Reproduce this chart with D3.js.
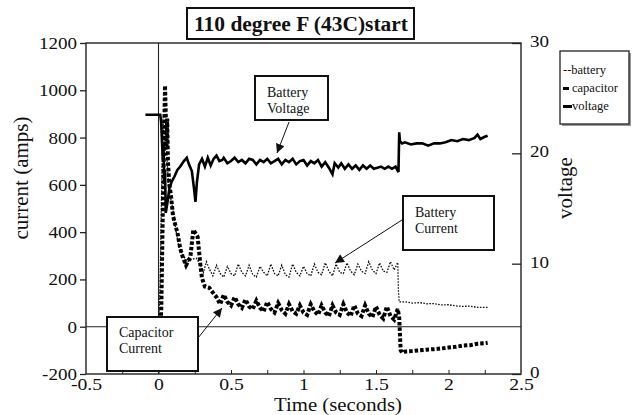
<!DOCTYPE html>
<html>
<head>
<meta charset="utf-8">
<script src="https://cdn.jsdelivr.net/npm/d3@7"></script>
<style>
  body { margin: 0; background: #fff; }
  svg text { font-family: "Liberation Serif", "Times New Roman", serif; fill: #111; }
  .axis path, .axis line { stroke: #222; }
</style>
</head>
<body>
<div id="chart"></div>
<script>
// time in seconds, voltage in volts (right axis)
const voltage = [
  [-0.09,23.5],[0.012,23.5],[0.018,22.9],[0.024,21.1],[0.03,19.4],[0.034,20.8],[0.04,17.2],[0.045,18.5],
  [0.05,14.6],[0.06,15.4],[0.075,16.8],[0.09,17.4],[0.11,17.9],[0.13,18.5],[0.15,18.8],[0.175,19.3],
  [0.195,19.6],[0.21,19.0],[0.23,18.4],[0.245,16.8],[0.255,15.6],[0.265,17.4],[0.28,19.0],[0.3,19.5],
  [0.32,18.8],[0.34,19.6],[0.36,18.9],[0.38,19.5],[0.4,19.8],[0.42,19.3],[0.44,19.4],[0.45,19.6],
  [0.475,19.1],[0.5,19.3],[0.525,19.6],[0.55,19.2],[0.575,19.4],[0.6,19.1],[0.625,19.5],[0.65,19.4],
  [0.675,19.0],[0.7,19.4],[0.725,19.2],[0.75,19.5],[0.775,19.1],[0.8,19.3],[0.825,19.5],[0.85,19.0],
  [0.875,19.4],[0.9,19.2],[0.925,19.5],[0.95,19.0],[0.975,19.3],[1.0,19.4],[1.025,18.9],[1.05,19.3],
  [1.075,19.1],[1.1,19.4],[1.125,18.8],[1.15,19.2],[1.175,18.7],[1.2,18.1],[1.215,19.1],[1.24,18.7],
  [1.26,19.1],[1.285,18.6],[1.31,19.0],[1.335,18.6],[1.36,18.9],[1.385,18.5],[1.41,18.9],[1.435,18.6],
  [1.46,18.9],[1.485,18.6],[1.51,18.7],[1.535,18.8],[1.56,18.6],[1.585,18.8],[1.61,18.6],[1.635,18.8],
  [1.655,18.3],[1.66,21.9],[1.665,21.1],[1.68,20.9],[1.7,21.0],[1.74,20.8],[1.78,20.9],[1.82,20.9],
  [1.86,20.7],[1.9,20.9],[1.94,20.9],[1.98,21.0],[2.02,21.2],[2.06,21.1],[2.1,21.3],[2.14,21.2],
  [2.18,21.4],[2.2,21.7],[2.22,21.3],[2.25,21.5],[2.27,21.6]
];

// battery current, amps (left axis)
const battery = [
  [0,0],[0.01,150],[0.02,520],[0.03,880],[0.04,760],[0.05,860],[0.06,700],[0.07,580],[0.085,540],
  [0.1,495],[0.12,410],[0.14,340],[0.17,300],[0.2,275],[0.23,285],[0.26,290],[0.29,260],[0.31,230],
  [0.33,275],[0.35,245],[0.375,215],[0.4,260],[0.425,225],[0.45,210],[0.475,255],[0.5,225],
  [0.525,215],[0.55,265],[0.575,230],[0.6,215],[0.625,260],[0.65,220],[0.675,210],[0.7,255],
  [0.725,230],[0.75,215],[0.775,265],[0.8,225],[0.825,215],[0.85,260],[0.875,220],[0.9,210],
  [0.925,265],[0.95,230],[0.975,215],[1.0,255],[1.025,225],[1.05,215],[1.075,265],[1.1,230],
  [1.125,220],[1.15,270],[1.175,235],[1.2,215],[1.225,265],[1.25,230],[1.275,225],[1.3,270],
  [1.325,235],[1.35,220],[1.375,265],[1.4,235],[1.425,225],[1.45,275],[1.475,240],[1.5,225],
  [1.525,270],[1.55,235],[1.575,230],[1.6,275],[1.625,240],[1.65,272],[1.655,150],[1.66,105],
  [1.7,105],[1.75,100],[1.8,102],[1.85,97],[1.9,98],[1.95,92],[2.0,93],[2.05,88],[2.1,86],
  [2.15,87],[2.2,82],[2.27,82]
];

// capacitor current, amps (left axis)
const capacitor = [
  [0.015,0],[0.02,100],[0.03,500],[0.04,850],[0.045,1020],[0.05,900],[0.055,750],[0.06,880],
  [0.065,700],[0.075,600],[0.085,560],[0.1,470],[0.12,420],[0.13,400],[0.15,330],[0.17,290],
  [0.19,260],[0.22,295],[0.24,410],[0.27,380],[0.29,255],[0.3,205],[0.32,170],[0.35,165],
  [0.38,140],[0.4,125],[0.425,95],[0.45,135],[0.475,105],[0.5,90],[0.525,125],[0.55,95],
  [0.575,80],[0.6,115],[0.625,85],[0.65,75],[0.675,110],[0.7,80],[0.725,65],[0.75,105],
  [0.775,75],[0.8,60],[0.825,100],[0.85,70],[0.875,55],[0.9,95],[0.925,65],[0.95,55],
  [0.975,90],[1.0,60],[1.025,50],[1.05,95],[1.075,65],[1.1,50],[1.125,90],[1.15,60],
  [1.175,45],[1.2,90],[1.225,60],[1.25,50],[1.275,95],[1.3,60],[1.325,45],[1.35,90],
  [1.375,55],[1.4,45],[1.425,90],[1.45,55],[1.475,40],[1.5,85],[1.525,50],[1.55,35],
  [1.575,85],[1.6,45],[1.625,30],[1.65,75],[1.66,40],[1.665,-30],[1.67,-100],[1.68,-110],
  [1.7,-105],[1.75,-103],[1.8,-100],[1.85,-97],[1.9,-95],[1.95,-92],[2.0,-88],[2.05,-85],
  [2.1,-80],[2.15,-78],[2.2,-72],[2.25,-70],[2.27,-68]
];

const xTicks = [-0.5, 0, 0.5, 1, 1.5, 2, 2.5];
const xMinorTicks = d3.range(-0.25, 2.5, 0.25);
const leftTicks = [-200, 0, 200, 400, 600, 800, 1000, 1200];
const rightTicks = [0, 10, 20, 30];
const legendLabels = ["--battery", "capacitor", "voltage"];

const width = 637, height = 415;
const m = { left: 86, right: 521, top: 43, bottom: 374 };

const svg = d3.select("#chart").append("svg")
  .attr("width", width).attr("height", height);

const x = d3.scaleLinear().domain([-0.5, 2.5]).range([m.left, m.right]);
const yL = d3.scaleLinear().domain([-200, 1200]).range([m.bottom, m.top]);
const yR = d3.scaleLinear().domain([0, 30]).range([m.bottom, m.top]);

const plain = d => String(d);   // hyphen minus, no thousands comma

// stretch text a little sideways, the source fonts are wider than Times
function stretch(sel, k) {
  sel.each(function() {
    const w = this.getComputedTextLength();
    d3.select(this).attr("textLength", w * k).attr("lengthAdjust", "spacingAndGlyphs");
  });
}

function tidy(g) {
  g.attr("font-family", null).attr("font-size", null);
  g.select(".domain").remove();
  g.selectAll("text").attr("font-size", 17);
}

svg.append("defs").append("marker")
  .attr("id", "head")
  .attr("viewBox", "0 0 10 10")
  .attr("refX", 10).attr("refY", 5)
  .attr("markerWidth", 11).attr("markerHeight", 9)
  .attr("markerUnits", "userSpaceOnUse")
  .attr("orient", "auto")
  .append("path").attr("d", "M0,0L10,5L0,10Z").attr("fill", "#111");

// frame
svg.append("rect")
  .attr("x", m.left).attr("y", m.top)
  .attr("width", m.right - m.left).attr("height", m.bottom - m.top)
  .attr("fill", "none").attr("stroke", "#222").attr("stroke-width", 1.4);

// zero lines
svg.append("line")
  .attr("x1", m.left).attr("x2", m.right).attr("y1", yL(0)).attr("y2", yL(0))
  .attr("stroke", "#222").attr("stroke-width", 1.1);
svg.append("line")
  .attr("x1", x(0)).attr("x2", x(0)).attr("y1", m.top).attr("y2", m.bottom)
  .attr("stroke", "#222").attr("stroke-width", 1.1);

// bottom axis: inner minor ticks + labels
svg.append("g").attr("class", "axis")
  .attr("transform", `translate(0,${m.bottom})`)
  .call(d3.axisBottom(x).tickValues(xMinorTicks).tickSize(-4).tickSizeOuter(0).tickFormat(""))
  .call(tidy);
const xLab = svg.append("g").attr("class", "axis")
  .attr("transform", `translate(0,${m.bottom})`)
  .call(d3.axisBottom(x).tickValues(xTicks).tickSize(0).tickPadding(4).tickFormat(plain))
  .call(tidy);
stretch(xLab.selectAll("text"), 1.16);

// left axis
const yLab = svg.append("g").attr("class", "axis")
  .attr("transform", `translate(${m.left},0)`)
  .call(d3.axisLeft(yL).tickValues(leftTicks).tickSize(6).tickPadding(3).tickSizeOuter(0).tickFormat(plain))
  .call(tidy);
yLab.selectAll("line").attr("stroke-width", 1.3);
stretch(yLab.selectAll("text"), 1.12);

// right axis
const yRLab = svg.append("g").attr("class", "axis")
  .attr("transform", `translate(${m.right},0)`)
  .call(d3.axisRight(yR).tickValues(rightTicks).tickSize(-9).tickPadding(9).tickSizeOuter(0).tickFormat(plain))
  .call(tidy);
yRLab.selectAll("text").attr("dy", "0.2em");
yRLab.selectAll("line").attr("stroke-width", 1.3);
stretch(yRLab.selectAll("text"), 1.12);

// series
const lineL = d3.line().x(d => x(d[0])).y(d => yL(d[1]));
const lineR = d3.line().x(d => x(d[0])).y(d => yR(d[1]));

svg.append("path").datum(battery)
  .attr("d", lineL).attr("fill", "none")
  .attr("stroke", "#111").attr("stroke-width", 1.3).attr("stroke-dasharray", "1.6 1.4");

svg.append("path").datum(capacitor)
  .attr("d", lineL).attr("fill", "none")
  .attr("stroke", "#000").attr("stroke-width", 4).attr("stroke-dasharray", "3.5 2");

svg.append("path").datum(voltage)
  .attr("d", lineR).attr("fill", "none")
  .attr("stroke", "#000").attr("stroke-width", 2.6).attr("stroke-linejoin", "miter");

// title
svg.append("rect")
  .attr("x", 187).attr("y", 8).attr("width", 227).attr("height", 31)
  .attr("fill", "#fff").attr("stroke", "#111").attr("stroke-width", 2);
svg.append("text")
  .attr("x", 301).attr("y", 31).attr("text-anchor", "middle")
  .attr("font-size", 20).attr("font-weight", "bold")
  .attr("textLength", 214).attr("lengthAdjust", "spacingAndGlyphs")
  .text("110 degree F (43C)start");

// axis titles
svg.append("text")
  .attr("x", 338).attr("y", 411).attr("text-anchor", "middle")
  .attr("font-size", 18)
  .attr("textLength", 128).attr("lengthAdjust", "spacingAndGlyphs")
  .text("Time (seconds)");
svg.append("text")
  .attr("transform", "translate(28,178) rotate(-90)")
  .attr("text-anchor", "middle").attr("font-size", 21)
  .text("current (amps)");
svg.append("text")
  .attr("transform", "translate(572,188) rotate(-90)")
  .attr("text-anchor", "middle").attr("font-size", 21)
  .text("voltage");

// legend
const lg = svg.append("g");
lg.append("rect").attr("x", 562).attr("y", 53).attr("width", 69).attr("height", 73).attr("fill", "#9a9a9a");
lg.append("rect").attr("x", 560).attr("y", 51).attr("width", 69).attr("height", 73)
  .attr("fill", "#fff").attr("stroke", "#222").attr("stroke-width", 1.3);
lg.append("text").attr("x", 563).attr("y", 74).attr("font-size", 12.5).text(legendLabels[0]);
lg.append("rect").attr("x", 563).attr("y", 87).attr("width", 6).attr("height", 3).attr("fill", "#000");
lg.append("text").attr("x", 572).attr("y", 92).attr("font-size", 12.5).text(legendLabels[1]);
lg.append("rect").attr("x", 563).attr("y", 105).attr("width", 9).attr("height", 3).attr("fill", "#000");
lg.append("text").attr("x", 572).attr("y", 110).attr("font-size", 12.5).text(legendLabels[2]);

// callouts
const notes = [
  { box: [255, 76, 73, 44], lines: ["Battery", "Voltage"], tx: 267, ty: 97, from: [289, 122], to: [277, 153] },
  { box: [403, 196, 91, 54], lines: ["Battery", "Current"], tx: 415, ty: 217, from: [402, 220], to: [335, 263] },
  { box: [107, 317, 91, 54], lines: ["Capacitor", "Current"], tx: 119, ty: 337, from: [198, 338], to: [222, 308] }
];
notes.forEach(n => {
  svg.append("line")
    .attr("x1", n.from[0]).attr("y1", n.from[1]).attr("x2", n.to[0]).attr("y2", n.to[1])
    .attr("stroke", "#111").attr("stroke-width", 1).attr("marker-end", "url(#head)");
  svg.append("rect")
    .attr("x", n.box[0]).attr("y", n.box[1]).attr("width", n.box[2]).attr("height", n.box[3])
    .attr("fill", "#fff").attr("stroke", "#111").attr("stroke-width", 2);
  n.lines.forEach((t, i) => {
    svg.append("text").attr("x", n.tx).attr("y", n.ty + i * 16)
      .attr("font-size", 14).attr("fill", "#333").text(t);
  });
});
</script>
</body>
</html>
